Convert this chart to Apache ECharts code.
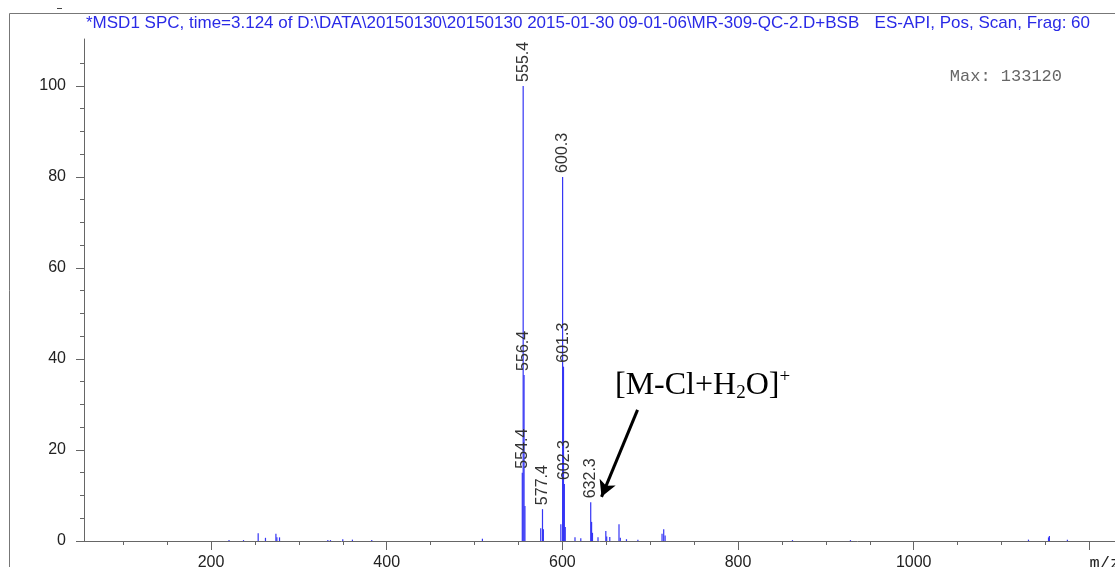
<!DOCTYPE html>
<html>
<head>
<meta charset="utf-8">
<script src="https://cdn.jsdelivr.net/npm/echarts@6/dist/echarts.min.js"></script>
<style>
  html, body { margin: 0; padding: 0; background: #fff; }
  #chart { width: 1115px; height: 567px; }
</style>
</head>
<body>
<div id="chart"></div>
<script>
// Mass spectrum: m/z positions and relative abundance (%)
const mz = [
  220.5, 237.0, 253.7, 262.0, 273.9, 275.0, 278.0, 333.0, 336.0, 350.0, 361.0, 383.0, 509.0,
  554.4, 555.4, 556.4, 557.4, 575.4, 577.4, 578.4,
  598.3, 600.3, 601.3, 602.3, 603.3, 614.4, 621.0,
  632.3, 633.3, 634.3, 640.6, 649.5, 650.5, 654.0, 664.5, 666.0, 673.0, 686.0,
  713.5, 715.4, 717.0, 862.0, 928.0, 1130.7, 1153.5, 1154.5, 1175.0
];
const intensity = [
  0.2, 0.2, 1.7, 0.7, 1.6, 0.8, 0.8, 0.2, 0.2, 0.4, 0.3, 0.2, 0.5,
  15.0, 100, 36.5, 7.7, 2.8, 7.0, 2.6,
  3.7, 80, 38.3, 12.5, 3.1, 0.8, 0.6,
  8.5, 4.2, 1.8, 0.8, 2.2, 1.0, 0.9, 3.7, 0.7, 0.4, 0.3,
  1.6, 2.6, 1.2, 0.2, 0.2, 0.3, 0.8, 1.1, 0.3
];
// Peaks that carry an m/z label
const labeledMz = [554.4, 555.4, 556.4, 577.4, 600.3, 601.3, 602.3, 632.3];

// Axis ticks
const xMajorTicks = [200, 400, 600, 800, 1000, 1200];
const xMinorTicks = [100, 150, 200, 250, 300, 350, 400, 450, 500, 550, 600, 650, 700, 750,
                     800, 850, 900, 950, 1000, 1050, 1100, 1150, 1200];
const yMajorTicks = [0, 20, 40, 60, 80, 100];
const yMinorTicks = [5, 10, 15, 25, 30, 35, 45, 50, 55, 65, 70, 75, 85, 90, 95, 105];
const xUnitLabel = 'm/z';

// Header texts
const headerLeft = '*MSD1 SPC, time=3.124 of D:\\DATA\\20150130\\20150130 2015-01-30 09-01-06\\MR-309-QC-2.D+BSB';
const headerRight = 'ES-API, Pos, Scan, Frag: 60';
const maxText = 'Max: 133120';

// Ion annotation arrow (data coordinates)
const arrowFrom = [685.6, 28.8];
const arrowTo = [644.6, 9.7];

const X_MIN = 55.4, X_MAX = 1229.2, Y_MAX = 110.3;

const peakData = mz.map((m, i) => {
  const item = { value: [m, intensity[i]] };
  if (labeledMz.includes(m)) item.label = { show: true };
  return item;
});

const chart = echarts.init(document.getElementById('chart'), null, { renderer: 'canvas' });

const axisColor = '#666';
const labelFont = 'Liberation Sans, Arial, sans-serif';
const serif = 'Liberation Serif, Times New Roman, serif';

chart.setOption({
  animation: false,
  backgroundColor: '#fff',
  title: [
    { text: headerLeft, left: 86, top: 15, padding: 0,
      textStyle: { color: '#2a2ae6', fontSize: 17, fontWeight: 'normal', fontFamily: labelFont } },
    { text: headerRight, right: 25, top: 15, padding: 0,
      textStyle: { color: '#2a2ae6', fontSize: 17, fontWeight: 'normal', fontFamily: labelFont } },
    { text: maxText, right: 53, top: 68, padding: 0,
      textStyle: { color: '#666', fontSize: 17, fontWeight: 'normal', fontFamily: 'Liberation Mono, Courier New, monospace' } }
  ],
  grid: { left: 84, right: 0, top: 39, bottom: 26, containLabel: false, outerBoundsMode: 'none' },
  xAxis: [
    {
      type: 'value', position: 'bottom', min: X_MIN, max: X_MAX,
      axisLine: { show: true, onZero: false, lineStyle: { color: axisColor, width: 1 } },
      axisTick: { show: true, length: 9, customValues: xMajorTicks, lineStyle: { color: axisColor } },
      axisLabel: {
        show: true, customValues: xMajorTicks, margin: 14,
        color: '#222', fontSize: 16, fontFamily: labelFont,
        formatter: v => v === 1200 ? '{u|' + xUnitLabel + '}' : String(v),
        rich: { u: { fontFamily: 'Liberation Mono, monospace', fontSize: 17, color: '#222', padding: [0, 0, 0, 31] } }
      },
      splitLine: { show: false }
    },
    {
      type: 'value', position: 'bottom', min: X_MIN, max: X_MAX,
      axisLine: { show: false },
      axisTick: { show: true, length: 4, customValues: xMinorTicks, lineStyle: { color: axisColor } },
      axisLabel: { show: false },
      splitLine: { show: false }
    }
  ],
  yAxis: [
    {
      type: 'value', position: 'left', min: 0, max: Y_MAX,
      axisLine: { show: true, onZero: false, lineStyle: { color: axisColor, width: 1 } },
      axisTick: { show: true, length: 8, customValues: yMajorTicks, lineStyle: { color: axisColor } },
      axisLabel: { show: true, customValues: yMajorTicks, margin: 18, color: '#222', fontSize: 16, fontFamily: labelFont },
      splitLine: { show: false }
    },
    {
      type: 'value', position: 'left', min: 0, max: Y_MAX,
      axisLine: { show: false },
      axisTick: { show: true, length: 4, customValues: yMinorTicks, lineStyle: { color: axisColor } },
      axisLabel: { show: false },
      splitLine: { show: false }
    }
  ],
  series: [{
    type: 'bar',
    xAxisIndex: 0, yAxisIndex: 0,
    data: peakData,
    barWidth: 1.2,
    itemStyle: { color: '#3535f5' },
    label: {
      show: false, position: 'top', rotate: 90, align: 'left', verticalAlign: 'middle', distance: 4,
      color: '#333', fontSize: 16, fontFamily: labelFont,
      formatter: p => p.value[0].toFixed(1)
    },
    emphasis: { disabled: true },
    markLine: {
      silent: true, animation: false,
      symbol: ['none', 'arrow'], symbolSize: [13, 16],
      lineStyle: { color: '#000', width: 3, type: 'solid' },
      label: { show: false },
      emphasis: { disabled: true },
      data: [[{ coord: arrowFrom }, { coord: arrowTo }]]
    }
  }],
  graphic: [
    // outer frame
    { type: 'polyline', silent: true, shape: { points: [[9.5, 567], [9.5, 13.5], [1115, 13.5]] },
      style: { stroke: '#777', lineWidth: 1, fill: null } },
    { type: 'line', silent: true, shape: { x1: 57, y1: 8.5, x2: 62, y2: 8.5 },
      style: { stroke: '#444', lineWidth: 1 } },
    // ion label
    { type: 'text', silent: true, x: 615, y: 368,
      style: {
        text: '{m|[M-Cl+H}{s|2}{m|O]}{p|+}',
        verticalAlign: 'top', align: 'left',
        rich: {
          m: { fontFamily: serif, fontSize: 32, lineHeight: 35, fill: '#000' },
          s: { fontFamily: serif, fontSize: 19, lineHeight: 16, verticalAlign: 'bottom', fill: '#000' },
          p: { fontFamily: serif, fontSize: 19, lineHeight: 16, verticalAlign: 'top', fill: '#000' }
        }
      } }
  ]
});
</script>
</body>
</html>
